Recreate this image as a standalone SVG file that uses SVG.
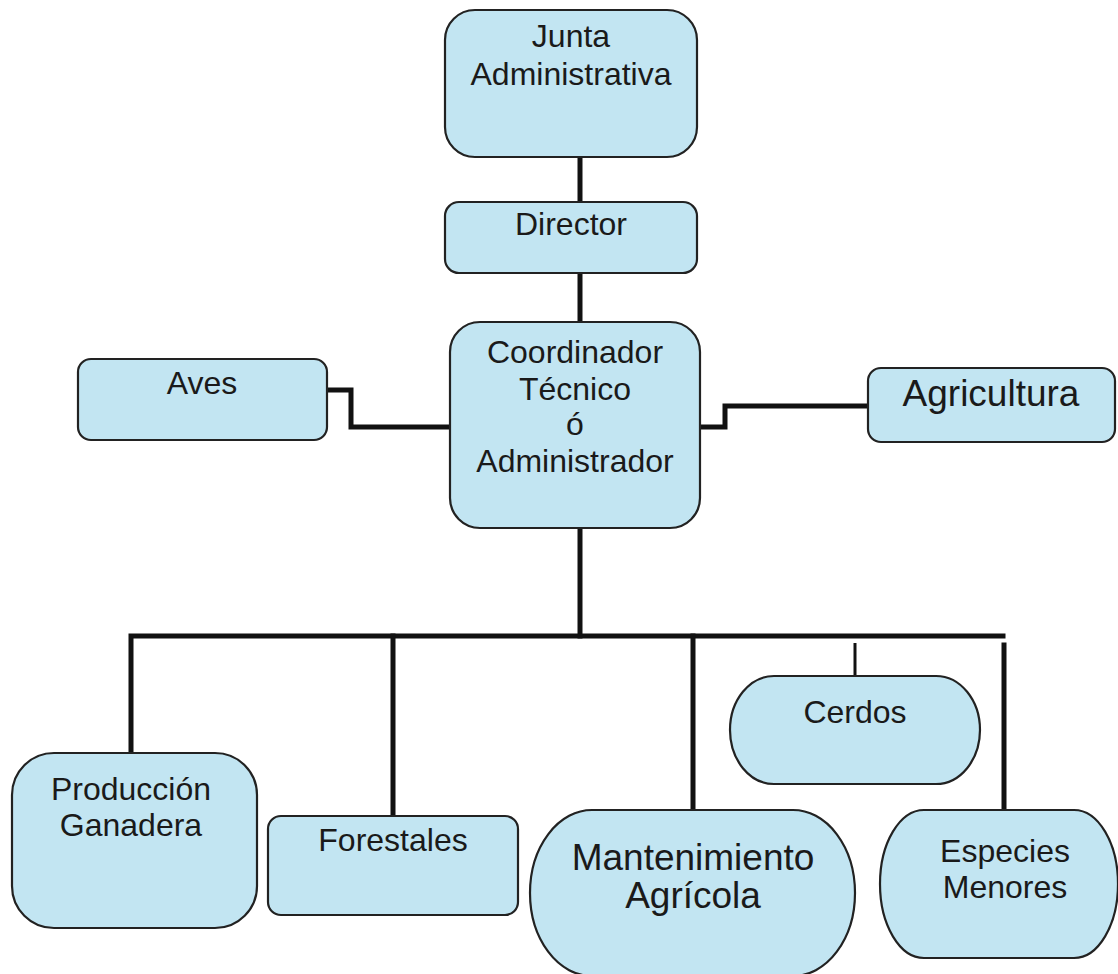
<svg xmlns="http://www.w3.org/2000/svg" width="1118" height="974" viewBox="0 0 1118 974">
<style>
.box{fill:#c2e5f2;stroke:#222;stroke-width:2.2}
.t{font-family:"Liberation Sans",Arial,sans-serif;font-size:32px;fill:#1a1a1a;text-anchor:middle}
.big{font-size:37px}
.ln{fill:none;stroke:#111;stroke-width:5;stroke-linecap:square;stroke-linejoin:miter}
.thin{fill:none;stroke:#111;stroke-width:3}
</style>
<rect width="1118" height="974" fill="#fff"/>
<g id="connectors">
<path class="ln" d="M580 157 V202"/>
<path class="ln" d="M580 273 V322"/>
<path class="ln" d="M580 528 V636"/>
<path class="ln" d="M327 390 H351 V427 H450"/>
<path class="ln" d="M700 427 H725 V406 H868"/>
<path class="ln" d="M131 753 V636 H1003"/>
<path class="ln" d="M393 636 V816"/>
<path class="ln" d="M693 636 V810"/>
<path class="thin" d="M855 643 V676"/>
<path class="ln" d="M1004 645 V810"/>
</g>
<g id="junta">
<rect class="box" x="445" y="10" width="252" height="147" rx="30"/>
<text class="t" x="571" y="47">Junta</text>
<text class="t" x="571" y="85">Administrativa</text>
</g>
<g id="director">
<rect class="box" x="445" y="202" width="252" height="71" rx="14"/>
<text class="t" x="571" y="235">Director</text>
</g>
<g id="coordinador">
<rect class="box" x="450" y="322" width="250" height="206" rx="30"/>
<text class="t" x="575" y="363">Coordinador</text>
<text class="t" x="575" y="400">Técnico</text>
<text class="t" x="575" y="435">ó</text>
<text class="t" x="575" y="472">Administrador</text>
</g>
<g id="aves">
<rect class="box" x="78" y="359" width="249" height="81" rx="13"/>
<text class="t" x="202" y="394">Aves</text>
</g>
<g id="agricultura">
<rect class="box" x="868" y="368" width="247" height="74" rx="13"/>
<text class="t big" x="991" y="406">Agricultura</text>
</g>
<g id="produccion">
<rect class="box" x="12" y="753" width="245" height="175" rx="42"/>
<text class="t" x="131" y="800">Producción</text>
<text class="t" x="131" y="836">Ganadera</text>
</g>
<g id="forestales">
<rect class="box" x="268" y="816" width="250" height="99" rx="13"/>
<text class="t" x="393" y="851">Forestales</text>
</g>
<g id="mantenimiento">
<rect class="box" x="530" y="810" width="325" height="166" rx="62" ry="83"/>
<text class="t big" x="693" y="870">Mantenimiento</text>
<text class="t big" x="693" y="908">Agrícola</text>
</g>
<g id="cerdos">
<rect class="box" x="730" y="676" width="250" height="108" rx="44" ry="54"/>
<text class="t" x="855" y="723">Cerdos</text>
</g>
<g id="especies">
<rect class="box" x="880" y="810" width="238" height="148" rx="44" ry="74"/>
<text class="t" x="1005" y="862">Especies</text>
<text class="t" x="1005" y="898">Menores</text>
</g>
</svg>
